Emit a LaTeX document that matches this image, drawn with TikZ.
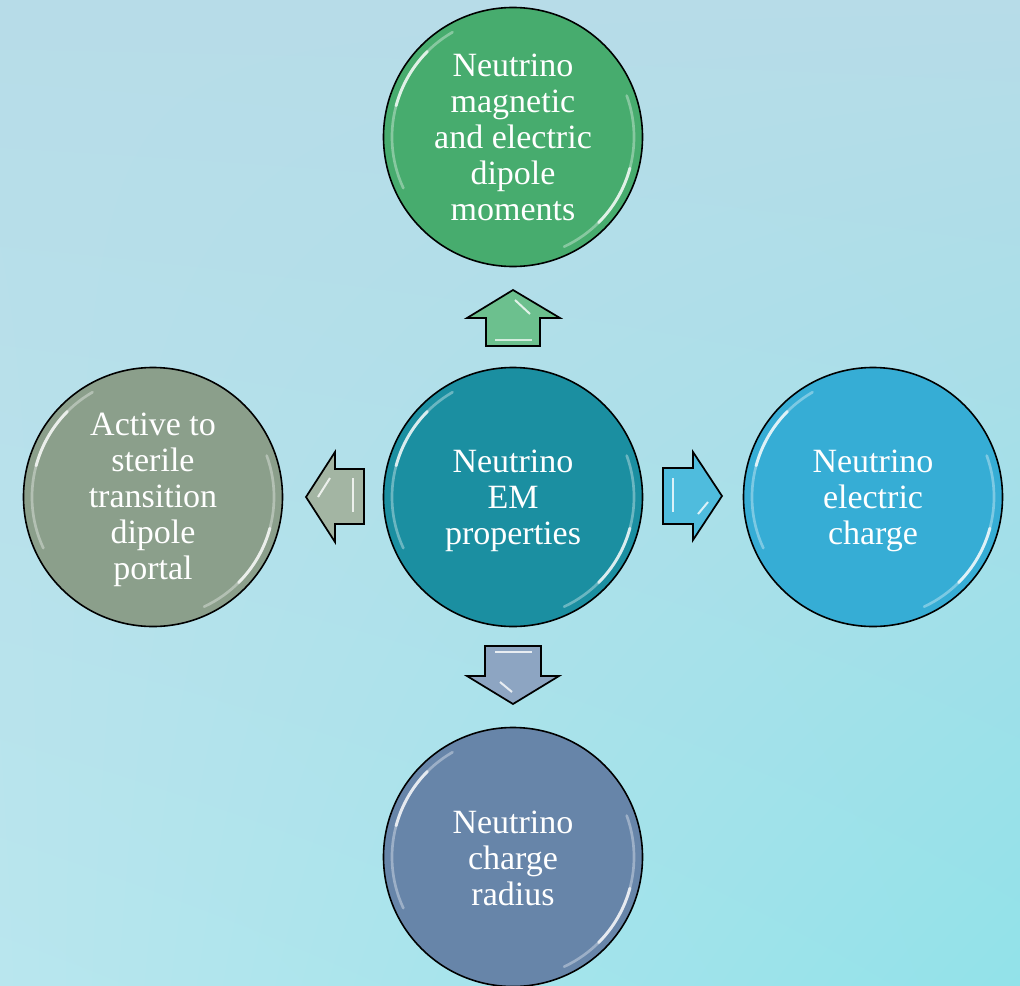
\documentclass[tikz,border=0pt]{standalone}
\usepackage{fontspec}
\setmainfont{Liberation Serif}
\usetikzlibrary{shadings}
\definecolor{bgA}{HTML}{B7DCE8}
\definecolor{bgB}{HTML}{B9E6EE}
\definecolor{bgC}{HTML}{92E2E9}
\definecolor{cGreen}{HTML}{47AC6E}
\definecolor{cTeal}{HTML}{1B8FA1}
\definecolor{cSky}{HTML}{36ADD5}
\definecolor{cSage}{HTML}{8B9F8B}
\definecolor{cSteel}{HTML}{6785A9}
\definecolor{aGreen}{HTML}{6CC08E}
\definecolor{aSky}{HTML}{4FBCDD}
\definecolor{aSage}{HTML}{A3B5A3}
\definecolor{aSteel}{HTML}{8DA5C2}
\begin{document}
\begin{tikzpicture}[x=0.75pt,y=-0.75pt,
  bubble/.style={circle,draw=black,line width=1.2pt,minimum size=259*0.75pt,inner sep=0pt},
  bubbletext/.style={text=white,align=center,inner sep=0pt,font=\fontsize{25.5}{27}\selectfont},
  blockarrow/.style={draw=black,line width=1.3pt,line join=miter},
  glossA/.style={white,line width=2pt,line cap=round,opacity=0.35},
  glossB/.style={white,line width=2.2pt,line cap=round,opacity=0.75}]
\useasboundingbox (0,0) rectangle (1020,985);
\shade[upper left=bgA,upper right=bgA,lower left=bgB,lower right=bgC] (0,0) rectangle (1020,985);

\node[bubble,fill=cGreen] (top) at (513,137) {};
\node[bubble,fill=cTeal] (mid) at (513,497) {};
\node[bubble,fill=cSage] (left) at (153,497) {};
\node[bubble,fill=cSky] (right) at (873,497) {};
\node[bubble,fill=cSteel] (bot) at (513,857) {};

\node[bubbletext] (topT) at (top.center) {Neutrino\\magnetic\\and electric\\dipole\\moments};
\node[bubbletext] (midT) at ([yshift=-3pt]mid.center) {Neutrino\\EM\\properties};
\node[bubbletext] (leftT) at ([yshift=-2pt]left.center) {Active to\\sterile\\transition\\dipole\\portal};
\node[bubbletext] (rightT) at ([yshift=-3pt]right.center) {Neutrino\\electric\\charge};
\node[bubbletext] (botT) at ([yshift=-1pt]bot.center) {Neutrino\\charge\\radius};

% glossy rims (angles negated because the y axis points down)
\foreach \n in {top,mid,left,right,bot}{
  \draw[glossA] (\n.center) ++(-120:121) arc[start angle=-120,end angle=-205,radius=121];
  \draw[glossB] (\n.center) ++(-135:121) arc[start angle=-135,end angle=-165,radius=121];
  \draw[glossA] (\n.center) ++(65:121) arc[start angle=65,end angle=-20,radius=121];
  \draw[glossB] (\n.center) ++(45:121) arc[start angle=45,end angle=15,radius=121];
}

% block arrows
\draw[blockarrow,fill=aGreen] (513,290) -- (560,318) -- (540,318) -- (540,346) -- (486,346) -- (486,318) -- (467,318) -- cycle;
\draw[blockarrow,fill=aSteel] (513,704) -- (559,676) -- (541,676) -- (541,646) -- (485,646) -- (485,676) -- (467,676) -- cycle;
\draw[blockarrow,fill=aSage] (306,497) -- (335,452) -- (335,469) -- (364,469) -- (364,524) -- (335,524) -- (335,542) -- cycle;
\draw[blockarrow,fill=aSky] (722,496) -- (693,452) -- (693,468) -- (663,468) -- (663,524) -- (693,524) -- (693,540) -- cycle;
% arrow bevel highlights
\draw[white,line width=1.5pt,opacity=0.8] (515,300) -- (530,314);
\draw[white,line width=1.5pt,opacity=0.7] (495,340) -- (532,340);
\draw[white,line width=1.5pt,opacity=0.8] (495,652) -- (532,652);
\draw[white,line width=1.5pt,opacity=0.8] (500,682) -- (512,692);
\draw[white,line width=1.5pt,opacity=0.8] (318,497) -- (330,478);
\draw[white,line width=1.5pt,opacity=0.8] (353,478) -- (353,512);
\draw[white,line width=1.5pt,opacity=0.8] (673,478) -- (673,512);
\draw[white,line width=1.5pt,opacity=0.8] (698,514) -- (708,502);
\end{tikzpicture}
\end{document}
